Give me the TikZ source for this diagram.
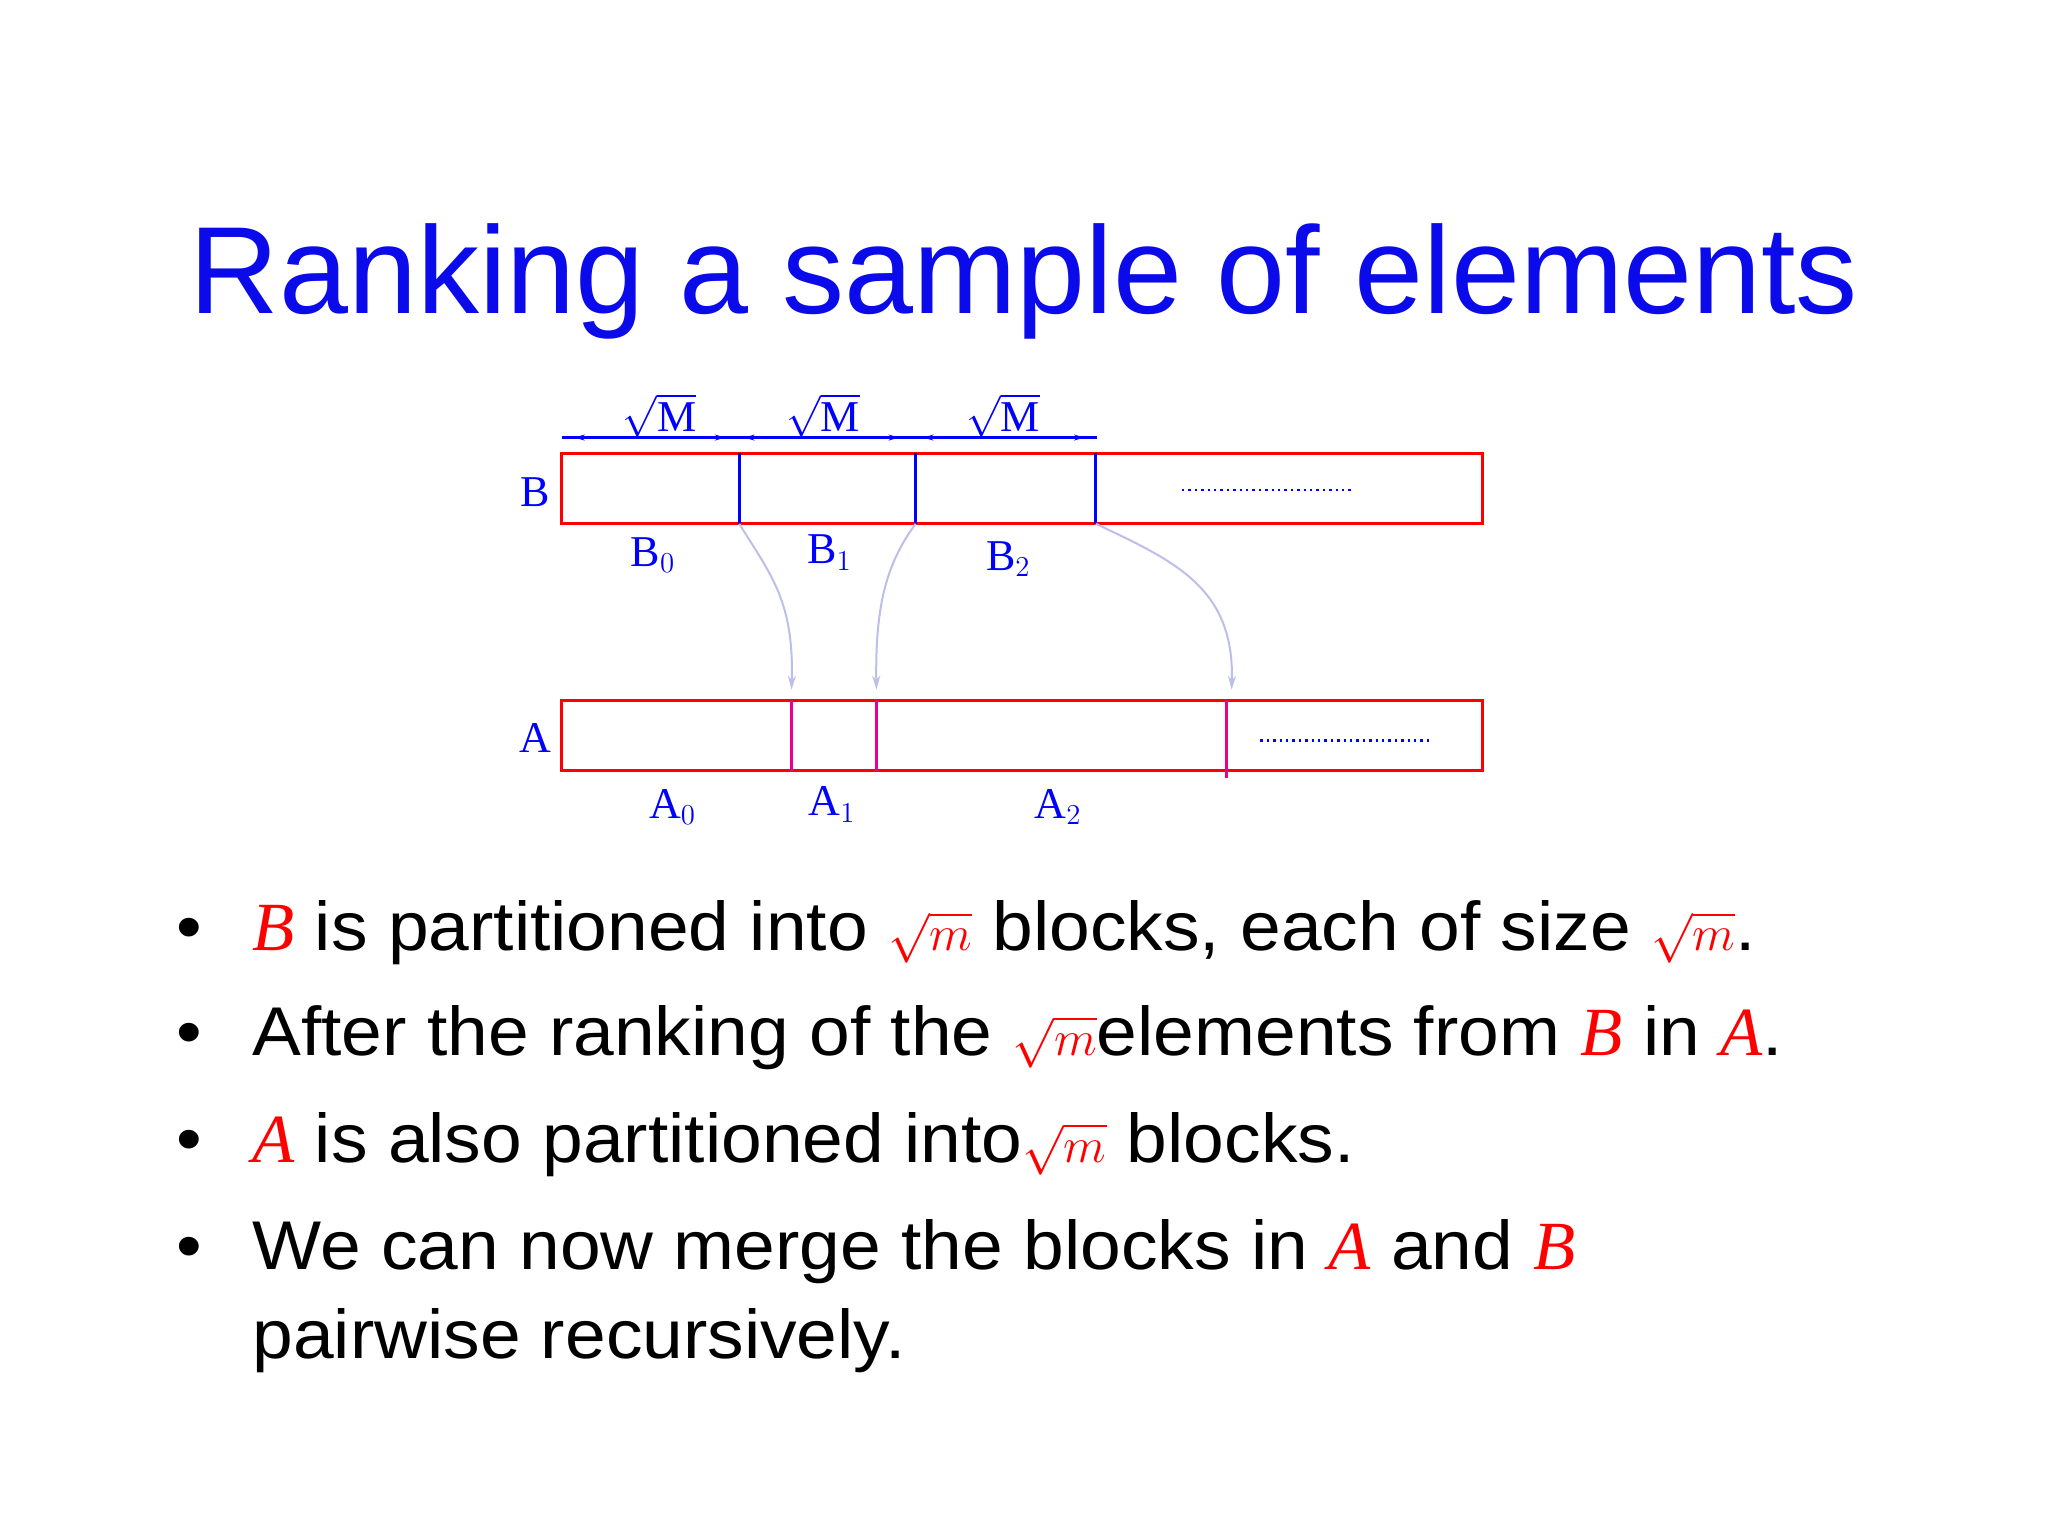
\documentclass[tikz,border=0pt]{standalone}
\usepackage{fontspec}
\setmainfont{Liberation Sans}
\newfontfamily\stretchsans[FakeStretch=1.06]{Liberation Sans}
\newfontfamily\serifit{Liberation Serif}
\usetikzlibrary{arrows.meta}
\definecolor{ttl}{RGB}{10,10,235}
\definecolor{lav}{RGB}{190,190,235}
\newcommand\rv[1]{{\color{red}\serifit\itshape #1}}
\newcommand\rsq{{\color{red}$\sqrt{m}$}}
\tikzset{
  box/.style={draw=red,line width=1.5pt},
  bdiv/.style={draw=blue,line width=1.4pt},
  adiv/.style={draw=magenta,line width=1.4pt},
  lab/.style={text=blue,font=\serifit\fontsize{22}{24}\selectfont,inner sep=0pt},
  dots/.style={draw=blue,line width=1.2pt,dash pattern=on 1.2pt off 2pt},
  conn/.style={draw=lav,line width=1pt,-{Stealth[length=7pt,width=4pt]}},
  dimtip/.style={-{Stealth[length=5pt,width=3pt]},draw=blue,line width=1pt},
  btxt/.style={anchor=base west,inner sep=0pt,font=\stretchsans\fontsize{34.5}{40}\selectfont}
}
\begin{document}
\begin{tikzpicture}[x=0.653pt,y=-0.653pt]
\useasboundingbox[fill=white] (0,0) rectangle (1568,1176);
\node[anchor=base,text=ttl,font=\fontsize{62}{70}\selectfont,inner sep=0pt] (title) at (784,240) {Ranking a sample of elements};
% B row
\draw[box] (430,347) rectangle (1135,401);
\coordinate (b1t) at (566,347); \coordinate (b1) at (566,401);
\coordinate (b2t) at (701,347); \coordinate (b2) at (701,401);
\coordinate (b3t) at (839,347); \coordinate (b3) at (839,401);
\draw[bdiv] (b1t)--(b1); \draw[bdiv] (b2t)--(b2); \draw[bdiv] (b3t)--(b3);
\draw[dots] (905,375)--(1037,375);
\draw[draw=blue,line width=1.4pt] (430,335)--(840,335);
\draw[dimtip] (460,335)--(440,335); \draw[dimtip] (535,335)--(555,335);
\draw[dimtip] (585,335)--(570,335); \draw[dimtip] (668,335)--(688,335);
\draw[dimtip] (722,335)--(707,335); \draw[dimtip] (810,335)--(830,335);
\node[lab] (m1) at (505,318) {$\sqrt{\hbox{M}}$};
\node[lab] (m2) at (630,318) {$\sqrt{\hbox{M}}$};
\node[lab] (m3) at (768,318) {$\sqrt{\hbox{M}}$};
\node[lab] (Bl) at (410,377) {B};
\node[lab] (B0) at (500,425) {B$_0$};
\node[lab] (B1) at (635,423) {B$_1$};
\node[lab] (B2) at (772,428) {B$_2$};
% A row
\draw[box] (430,536) rectangle (1135,590);
\coordinate (a1t) at (606,528); \coordinate (a1) at (606,590);
\coordinate (a2t) at (671,528); \coordinate (a2) at (671,590);
\coordinate (a3t) at (943,528); \coordinate (a3) at (939,596);
\draw[adiv] (606,536)--(a1); \draw[adiv] (671,536)--(a2); \draw[adiv] (939,536)--(a3);
\draw[dots] (965,567)--(1097,567);
\node[lab] (Al) at (410,565) {A};
\node[lab] (A0) at (515,618) {A$_0$};
\node[lab] (A1) at (637,616) {A$_1$};
\node[lab] (A2) at (810,618) {A$_2$};
\draw[conn] (b1) .. controls (590,440) and (608,460) .. (a1t);
\draw[conn] (b2) .. controls (680,430) and (670,460) .. (a2t);
\draw[conn] (b3) .. controls (900,430) and (945,450) .. (a3t);
% bullets
\foreach \y in {728,808,890,972}{\node[btxt] at (135,\y) {•};}
\node[btxt] (t1) at (193,728) {\rv{B} is partitioned into \rsq{} blocks, each of size \rsq.};
\node[btxt] (t2) at (193,808) {After the ranking of the \rsq elements from \rv{B} in \rv{A}.};
\node[btxt] (t3) at (193,890) {\rv{A} is also partitioned into\rsq{} blocks.};
\node[btxt] (t4) at (193,972) {We can now merge the blocks in \rv{A} and \rv{B}};
\node[btxt] (t5) at (193,1040) {pairwise recursively.};
\end{tikzpicture}
\end{document}
